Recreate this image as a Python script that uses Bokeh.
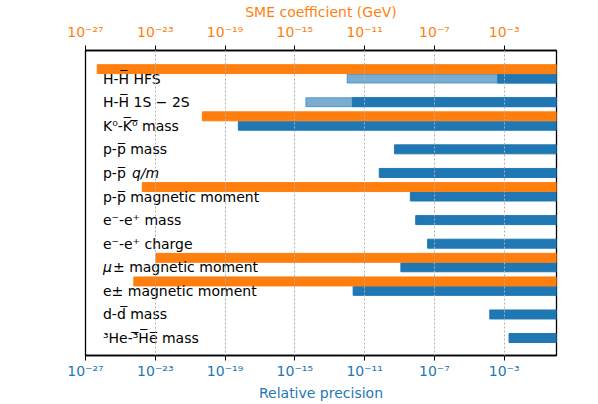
from bokeh.plotting import figure
from bokeh.models import Range1d, LogAxis, FixedTicker, CustomJSTickFormatter, ColumnDataSource
from bokeh.core.properties import value
from bokeh.embed import file_html
from bokeh.resources import INLINE

labels = ["H-H\u0305 HFS", "H-H\u0305 1S \u2212 2S", "K\u2070-K\u0305\u2070\u0305 mass", "p-p\u0305 mass",
          "p-p\u0305", "p-p\u0305 magnetic moment", "e\u207b-e\u207a mass", "e\u207b-e\u207a charge",
          "", "e\u00b1 magnetic moment", "d-d\u0305 mass",
          "\u00b3He-\u00b3\u0305H\u0305e\u0305 mass"]
row = list(range(len(labels)))
# relative precision (blue), lower ends
precision = [4.3e-4, 2.0e-12, 5.8e-19, 5.2e-10, 6.9e-11, 4.2e-9, 8.5e-9, 4.1e-8, 1.2e-9, 2.2e-12, 1.5e-4, 1.9e-3]
# earlier precision (light blue)
light_rows = [0, 1]
light_precision = [1.0e-12, 4.3e-15]
# SME coefficient (orange)
sme_rows = [0, 2, 5, 8, 9]
sme_coeff = [4.7e-27, 5.0e-21, 1.8e-24, 1.1e-23, 5.9e-25]
ticks = [1e-27, 1e-23, 1e-19, 1e-15, 1e-11, 1e-7, 1e-3]

ORANGE = "#ff7f0e"
BLUE = "#1f77b4"
FONT = "DejaVu Sans"

p = figure(frame_width=471, frame_height=305, x_axis_type="log",
           x_range=Range1d(1e-27, 1.0), y_range=Range1d(11.74, -1.19),
           output_backend="svg", toolbar_location=None,
           min_border_left=85, min_border_right=20, min_border_top=43, min_border_bottom=30,
           background_fill_color="white", border_fill_color="white")
p.outline_line_color = "black"
p.outline_line_width = 1.3
p.yaxis.visible = False
p.ygrid.visible = False

fmt = CustomJSTickFormatter(code="""
const sup = {'-':'\u207b','0':'\u2070','1':'\u00b9','2':'\u00b2','3':'\u00b3','4':'\u2074','5':'\u2075','6':'\u2076','7':'\u2077','8':'\u2078','9':'\u2079'};
const e = Math.round(Math.log10(tick));
return '10' + String(e).split('').map(c => sup[c]).join('');
""")

def style_axis(ax, color, label, standoff, lstandoff):
    ax.ticker = FixedTicker(ticks=ticks)
    ax.formatter = fmt
    ax.axis_label = label
    ax.axis_label_text_color = color
    ax.axis_label_text_font = FONT
    ax.axis_label_text_font_size = "14px"
    ax.axis_label_text_font_style = "normal"
    ax.axis_label_standoff = lstandoff
    ax.major_label_text_color = color
    ax.major_label_text_font = FONT
    ax.major_label_text_font_size = "14px"
    ax.major_label_standoff = standoff
    ax.axis_line_color = "black"
    ax.axis_line_width = 1.3
    ax.major_tick_line_color = "black"
    ax.major_tick_in = 0
    ax.major_tick_out = 5
    ax.minor_tick_line_color = None

style_axis(p.xaxis[0], BLUE, "Relative precision", 2, 3)
top = LogAxis()
style_axis(top, ORANGE, "SME coefficient (GeV)", 6, 1)
p.add_layout(top, "above")

p.xgrid.ticker = FixedTicker(ticks=ticks)
p.xgrid.grid_line_color = "#b0b0b0"
p.xgrid.grid_line_dash = "2 2"
p.xgrid.grid_line_width = 1
p.xgrid.level = "overlay"

H = 0.38
src_light = ColumnDataSource(dict(y=light_rows, left=light_precision, right=[1.0] * len(light_rows)))
p.hbar(y="y", left="left", right="right", height=H, source=src_light, color=BLUE, alpha=0.6)
src_blue = ColumnDataSource(dict(y=row, left=precision, right=[1.0] * len(row)))
p.hbar(y="y", left="left", right="right", height=H, source=src_blue, color=BLUE)
src_or = ColumnDataSource(dict(y=[r - 0.4 for r in sme_rows], left=sme_coeff, right=[1.0] * len(sme_rows)))
p.hbar(y="y", left="left", right="right", height=H, source=src_or, color=ORANGE)

src_lab = ColumnDataSource(dict(x=[1e-26] * len(labels), y=row, t=labels))
p.text(x="x", y="y", text="t", source=src_lab, text_font=value(FONT), text_font_size="14px",
       text_color="black", text_align="left", text_baseline="middle")
p.text(x=[1e-26], y=[4], text=["q/m"], x_offset=29, text_font=value(FONT), text_font_size="14px",
       text_font_style="italic", text_color="black", text_align="left", text_baseline="middle")
p.text(x=[1e-26], y=[8], text=["\u03bc"], text_font=value(FONT), text_font_size="14px",
       text_font_style="italic", text_color="black", text_align="left", text_baseline="middle")
p.text(x=[1e-26], y=[8], text=["\u00b1 magnetic moment"], x_offset=10, text_font=value(FONT),
       text_font_size="14px", text_color="black", text_align="left", text_baseline="middle")

open("out.html", "w").write(file_html(p, INLINE))
